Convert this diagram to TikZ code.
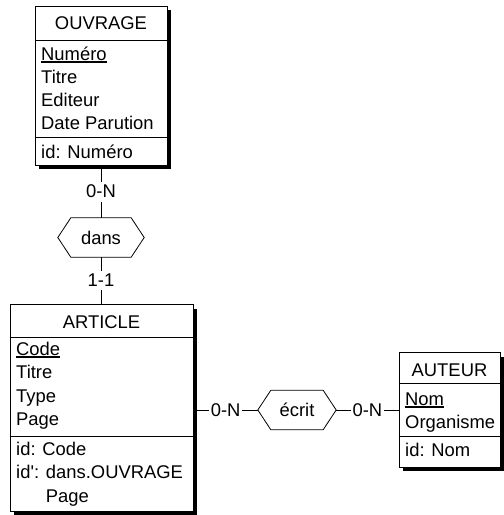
\documentclass[tikz,border=0pt]{standalone}
\usepackage{fontspec}
\setmainfont{Liberation Sans}
\usetikzlibrary{shadows,calc}

% underlined identifier attribute
\newcommand{\keyattr}[1]{\setbox0\hbox{#1}\rlap{\rule[-2.6pt]{\wd0}{1.4pt}}\box0}
% elongated hexagon drawn round a relationship node
\newcommand{\relshape}[1]{%
  \draw[link] (#1.west) -- ($(#1.north west)+(13,0)$) -- ($(#1.north east)+(-13,0)$)
    -- (#1.east) -- ($(#1.south east)+(-13,0)$) -- ($(#1.south west)+(13,0)$) -- cycle;}

\begin{document}
\begin{tikzpicture}[x=1pt,y=-1pt,
  every node/.style={font=\fontsize{18.4}{22}\selectfont},
  entity/.style={draw, line width=0.9pt, fill=white, inner sep=0pt,
     drop shadow={shadow xshift=4pt, shadow yshift=-4pt, fill=black, opacity=1}},
  attr/.style={anchor=base west, inner sep=0pt},
  etitle/.style={anchor=base, inner sep=0pt},
  rel/.style={inner sep=0pt, minimum height=39pt, text height=13pt, text depth=0pt},
  card/.style={fill=white, inner xsep=2pt, inner ysep=3.5pt},
  link/.style={line width=0.8pt},
  sep/.style={line width=0.8pt}
]
\useasboundingbox (0,0) rectangle (504,515);

% ---- OUVRAGE ----
\node[entity, minimum width=132pt, minimum height=159pt] (ouvrage) at (101,85.5) {};
\draw[sep] (ouvrage.west |- 0,40) -- (ouvrage.east |- 0,40);
\draw[sep] (ouvrage.west |- 0,137) -- (ouvrage.east |- 0,137);
\node[etitle] (ouvT) at (101,29.5) {OUVRAGE};
\node[attr] (ouv1) at (41,60) {\keyattr{Numéro}};
\node[attr] (ouv2) at (41,83) {Titre};
\node[attr] (ouv3) at (41,106) {Editeur};
\node[attr] (ouv4) at (41,129) {Date Parution};
\node[attr] (ouv5) at (41,158) {id: Numéro};

% ---- ARTICLE ----
\node[entity, minimum width=183pt, minimum height=207pt] (article) at (101.5,408) {};
\draw[sep] (article.west |- 0,337) -- (article.east |- 0,337);
\draw[sep] (article.west |- 0,436) -- (article.east |- 0,436);
\node[etitle] (artT) at (101.5,328) {ARTICLE};
\node[attr] (art1) at (16,355) {\keyattr{Code}};
\node[attr] (art2) at (16,378.5) {Titre};
\node[attr] (art3) at (16,402) {Type};
\node[attr] (art4) at (16,425.5) {Page};
\node[attr] (art5) at (16,455) {id: Code};
\node[attr] (art6) at (16,478.5) {id\textquotesingle: dans.OUVRAGE};
\node[attr] (art7) at (16,502) {\phantom{id\textquotesingle: }Page};

% ---- AUTEUR ----
\node[entity, minimum width=101pt, minimum height=114.5pt] (auteur) at (449.5,409.75) {};
\draw[sep] (auteur.west |- 0,383.5) -- (auteur.east |- 0,383.5);
\draw[sep] (auteur.west |- 0,436.5) -- (auteur.east |- 0,436.5);
\node[etitle] (autT) at (449.5,376) {AUTEUR};
\node[attr] (aut1) at (405,405) {\keyattr{Nom}};
\node[attr] (aut2) at (405,428) {Organisme};
\node[attr] (aut3) at (405,456) {id: Nom};

% ---- relationships ----
\node[rel, minimum width=86pt] (dans) at (101,237.5) {dans};
\relshape{dans}
\node[rel, minimum width=78pt] (ecrit) at (297,410) {écrit};
\relshape{ecrit}

% ---- connectors with cardinalities ----
\draw[link] (ouvrage.south -| dans.north) -- node[card] {0-N} (dans.north);
\draw[link] (dans.south) -- node[card] {1-1} (dans.south |- article.north);
\draw[link] (article.east |- ecrit.west) -- node[card] {0-N} (ecrit.west);
\draw[link] (ecrit.east) -- node[card] {0-N} (auteur.west |- ecrit.east);
\end{tikzpicture}
\end{document}
